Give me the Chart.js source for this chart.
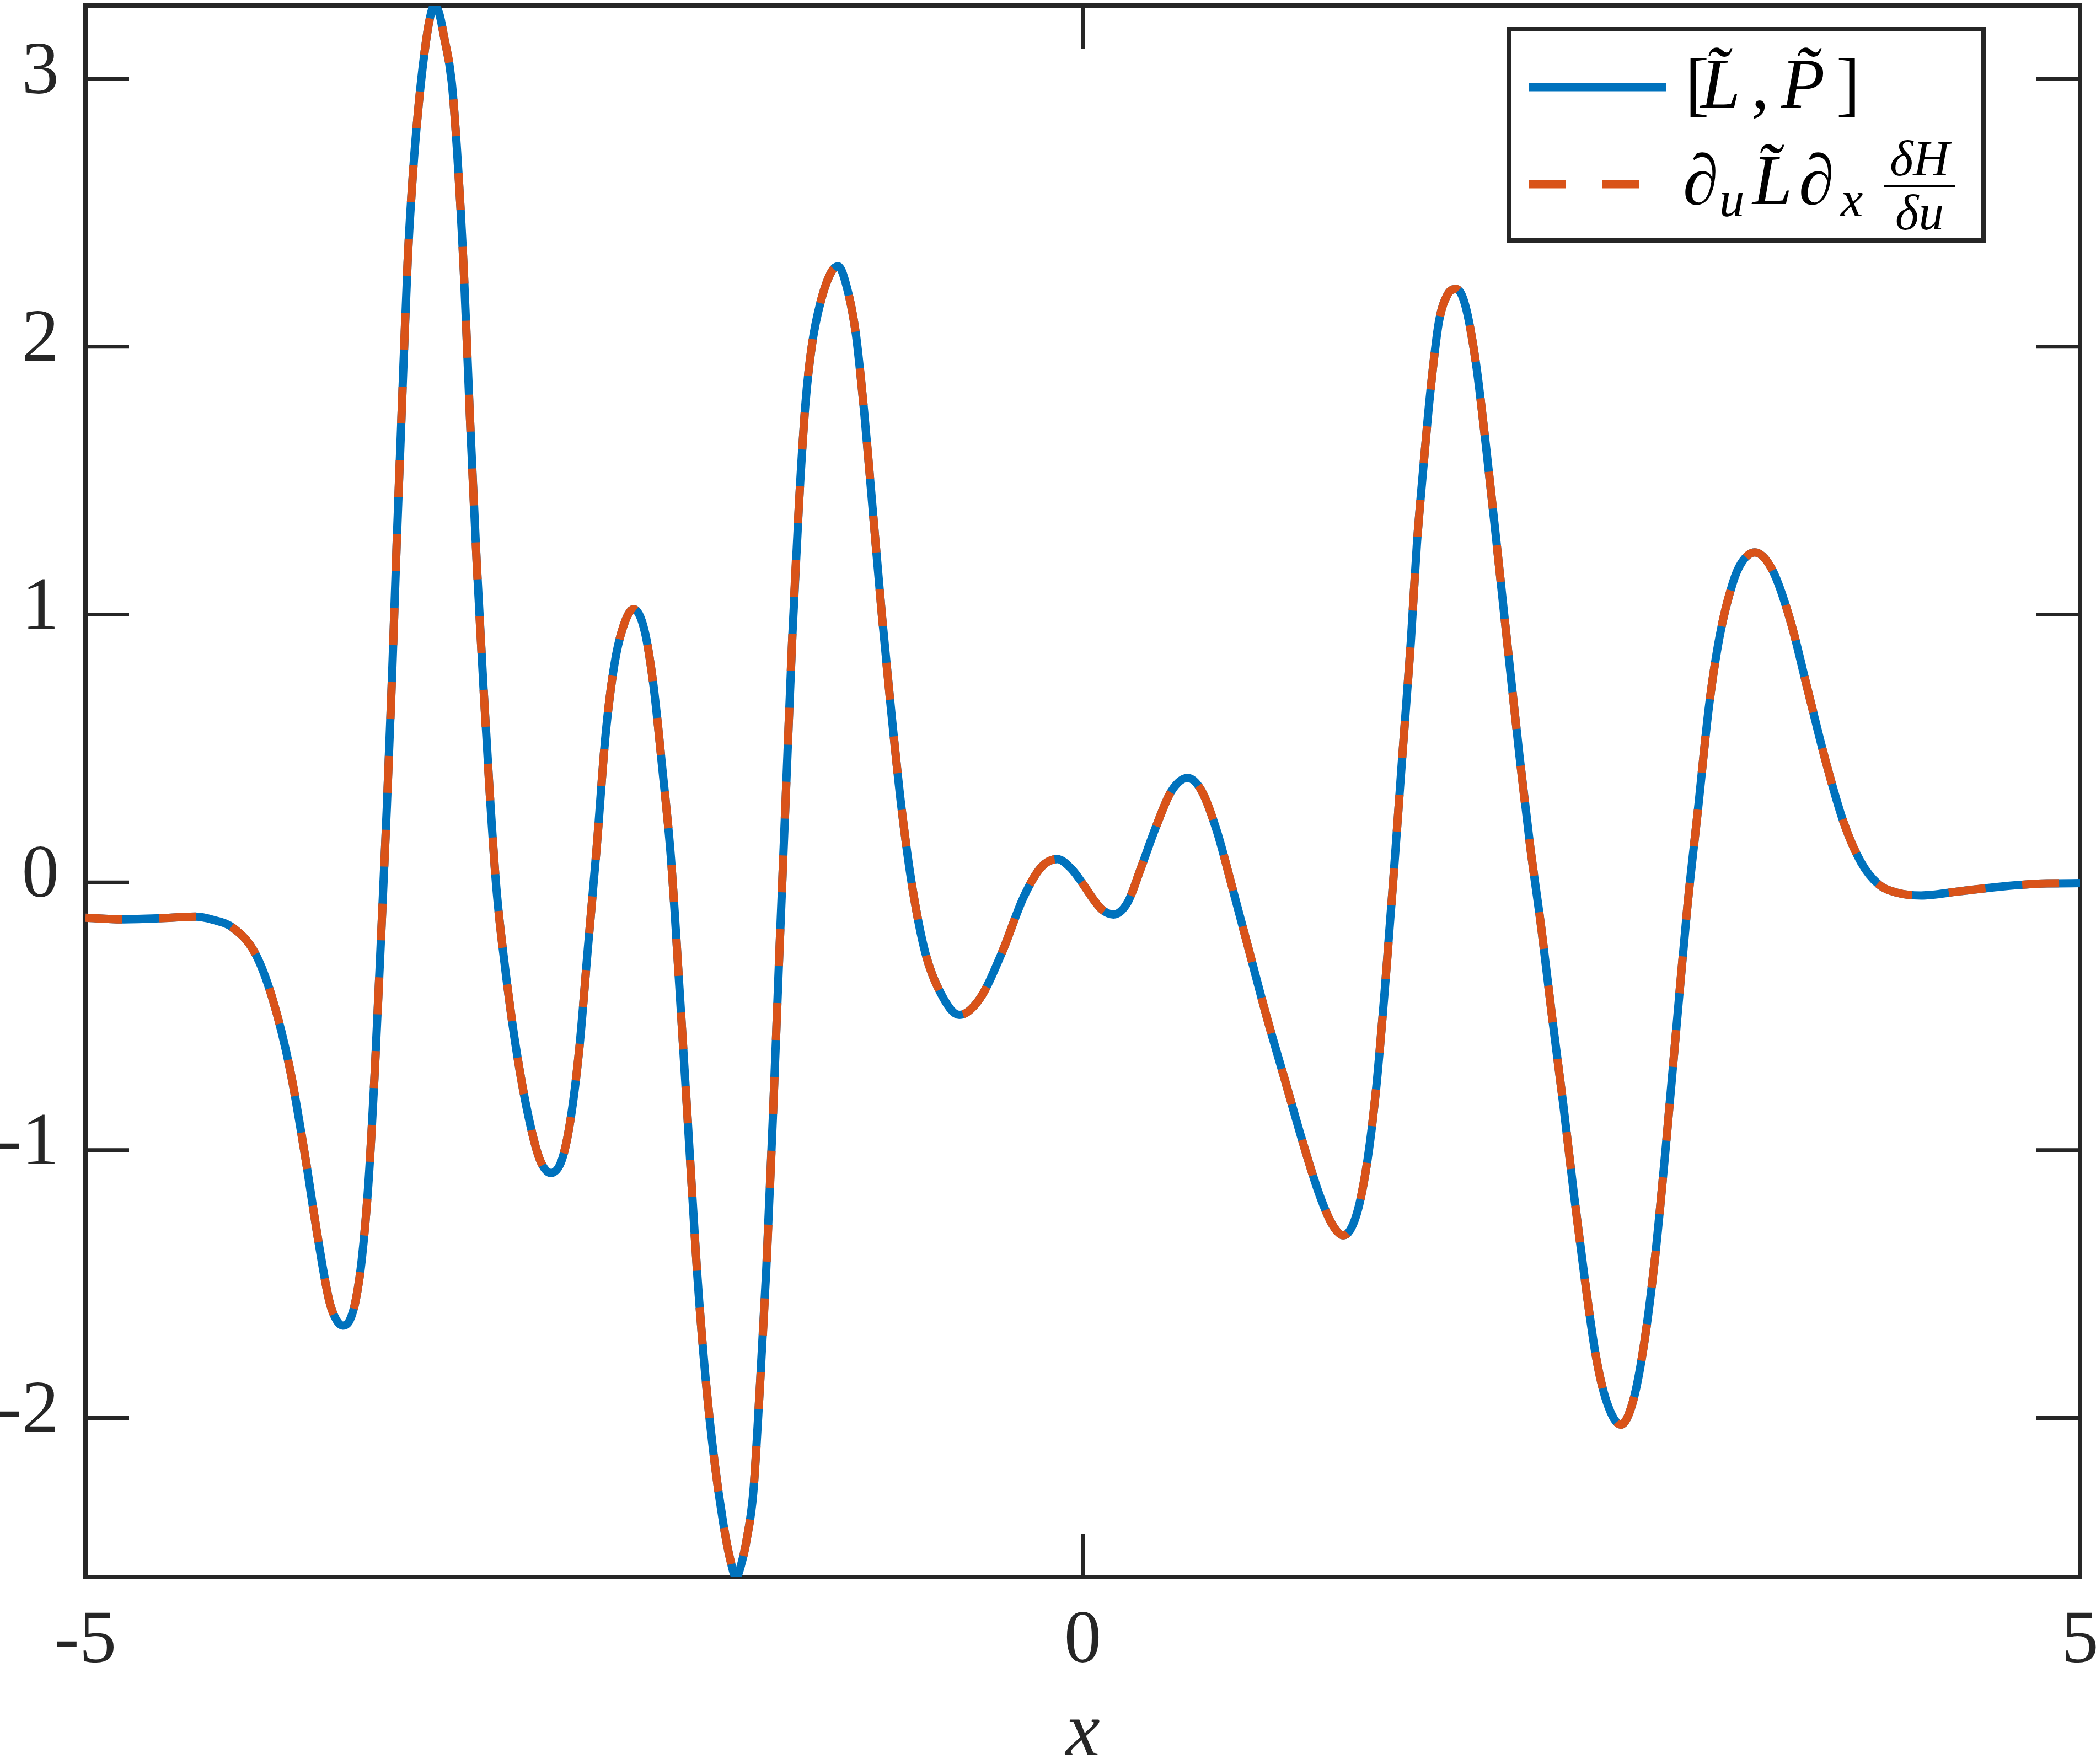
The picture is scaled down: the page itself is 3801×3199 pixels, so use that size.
<!DOCTYPE html>
<html><head><meta charset="utf-8">
<script src="https://cdn.jsdelivr.net/npm/chart.js@4"></script>
<style>html,body{margin:0;padding:0;background:#fff;overflow:hidden}canvas{display:block}</style>
</head><body>
<canvas id="c" width="3801" height="3199"></canvas>
<script>
// x positions of the readings
const xValues = [
 -5.00, -4.82, -4.63, -4.45, -4.36, -4.26, -4.15, -4.063, -3.975, -3.90,
 -3.833, -3.778, -3.745, -3.71, -3.675, -3.645, -3.615, -3.582, -3.549, -3.516,
 -3.489, -3.461, -3.44, -3.413, -3.385, -3.358, -3.33, -3.30, -3.275, -3.251,
 -3.225, -3.203, -3.164, -3.137, -3.103, -3.071, -3.038, -3.005, -2.972, -2.94,
 -2.896, -2.841, -2.776, -2.722, -2.667, -2.611, -2.568, -2.524, -2.481, -2.437,
 -2.393, -2.349, -2.306, -2.252, -2.197, -2.152, -2.109, -2.065, -2.022, -1.978,
 -1.934, -1.89, -1.846, -1.803, -1.77, -1.738, -1.71, -1.684, -1.652, -1.62,
 -1.587, -1.554, -1.522, -1.489, -1.456, -1.423, -1.39, -1.357, -1.315, -1.26,
 -1.226, -1.182, -1.138, -1.095, -1.051, -1.007, -0.963, -0.909, -0.854, -0.789,
 -0.712, -0.619, -0.515, -0.406, -0.297, -0.209, -0.127, -0.056, 0.0, 0.05,
 0.094, 0.154, 0.225, 0.29, 0.367, 0.444, 0.526, 0.597, 0.673, 0.75,
 0.837, 0.925, 1.012, 1.099, 1.187, 1.253, 1.307, 1.373, 1.428, 1.471,
 1.515, 1.558, 1.602, 1.645, 1.675, 1.709, 1.742, 1.785, 1.829, 1.873,
 1.917, 1.971, 2.026, 2.081, 2.135, 2.19, 2.244, 2.299, 2.354, 2.409,
 2.463, 2.518, 2.573, 2.627, 2.698, 2.758, 2.813, 2.868, 2.922, 2.976,
 3.031, 3.086, 3.14, 3.194, 3.26, 3.30, 3.369, 3.457, 3.547, 3.636,
 3.725, 3.814, 3.902, 3.991, 4.08, 4.203, 4.39, 4.613, 4.835, 5.0
];
// [L~, P~] (solid blue)
const commutatorValues = [
 -0.132, -0.138, -0.134, -0.128, -0.140, -0.170, -0.264, -0.433, -0.697, -1.017,
 -1.337, -1.562, -1.630, -1.655, -1.635, -1.560, -1.410, -1.130, -0.697, -0.170,
 0.282, 0.810, 1.260, 1.790, 2.315, 2.650, 2.900, 3.100, 3.220, 3.274,
 3.240, 3.160, 2.990, 2.730, 2.280, 1.710, 1.186, 0.734, 0.320, -0.020,
 -0.320, -0.620, -0.885, -1.035, -1.085, -1.035, -0.885, -0.620, -0.245, 0.130,
 0.546, 0.810, 0.950, 1.020, 0.940, 0.734, 0.433, 0.094, -0.395, -0.920,
 -1.450, -1.860, -2.165, -2.390, -2.520, -2.594, -2.540, -2.450, -2.280, -1.900,
 -1.450, -0.885, -0.280, 0.320, 0.920, 1.410, 1.790, 2.010, 2.165, 2.280,
 2.300, 2.220, 2.050, 1.750, 1.374, 0.998, 0.659, 0.280, -0.020, -0.264,
 -0.414, -0.495, -0.433, -0.264, -0.056, 0.056, 0.087, 0.050, -0.005, -0.060,
 -0.100, -0.120, -0.075, 0.050, 0.207, 0.340, 0.390, 0.340, 0.190, -0.020,
 -0.264, -0.510, -0.734, -0.960, -1.167, -1.280, -1.318, -1.240, -1.035, -0.770,
 -0.395, 0.020, 0.470, 0.900, 1.260, 1.560, 1.826, 2.090, 2.195, 2.215,
 2.157, 1.940, 1.600, 1.224, 0.847, 0.470, 0.130, -0.170, -0.508, -0.828,
 -1.167, -1.487, -1.770, -1.940, -2.025, -1.940, -1.730, -1.410, -0.998, -0.546,
 -0.094, 0.282, 0.659, 0.922, 1.120, 1.190, 1.232, 1.167, 0.979, 0.715,
 0.452, 0.226, 0.075, -0.008, -0.038, -0.049, -0.034, -0.015, -0.004, -0.003
];
// d_u L~ d_x dH/du (dashed orange) - lies exactly on top of the solid curve in the picture
const rhsValues = commutatorValues.slice();

const xTickValues = [-5, 0, 5];
const yTickValues = [-2, -1, 0, 1, 2, 3];
const seriesLabels = ['[L\u0303, P\u0303]', '\u2202uL\u0303\u2202x \u03B4H/\u03B4u'];
const axisTitleX = 'x';

const BLUE = '#0072BD', ORANGE = '#D95319', AX = '#262626';
const FONT = '"Liberation Serif", "DejaVu Serif", serif';

const toPts = (xs, ys) => xs.map((x, i) => ({x: x, y: ys[i]}));
const allY = commutatorValues.concat(rhsValues);

const framePlugin = {
  id: 'frame',
  beforeDatasetsDraw(chart) {
    const ctx = chart.ctx, xs = chart.scales.x, ys = chart.scales.y;
    const L = xs.getPixelForValue(xs.min), R = xs.getPixelForValue(xs.max);
    const T = ys.getPixelForValue(ys.max), B = ys.getPixelForValue(ys.min);
    ctx.save();
    ctx.strokeStyle = AX; ctx.lineCap = 'butt';
    ctx.lineWidth = 7;
    const tl = 79;
    yTickValues.forEach(v => {
      const p = ys.getPixelForValue(v);
      ctx.beginPath(); ctx.moveTo(L, p); ctx.lineTo(L + tl, p);
      ctx.moveTo(R, p); ctx.lineTo(R - tl, p); ctx.stroke();
    });
    xTickValues.forEach(v => {
      const p = xs.getPixelForValue(v);
      ctx.beginPath(); ctx.moveTo(p, B); ctx.lineTo(p, B - tl);
      ctx.moveTo(p, T); ctx.lineTo(p, T + tl); ctx.stroke();
    });
    ctx.lineWidth = 8; ctx.lineJoin = 'miter';
    ctx.strokeRect(L, T, R - L, B - T);
    ctx.restore();
  }
};

function txt(ctx, s, x, y, size, italic, align) {
  ctx.font = (italic ? 'italic ' : '') + size + 'px ' + FONT;
  ctx.textAlign = align || 'left';
  ctx.textBaseline = 'alphabetic';
  ctx.fillText(s, x, y);
}

const legendPlugin = {
  id: 'mlegend',
  afterDraw(chart) {
    const ctx = chart.ctx;
    const ds = chart.data.datasets;
    const bx = 2737, by = 53, bw = 860, bh = 383;
    ctx.save();
    ctx.fillStyle = '#fff';
    ctx.fillRect(bx, by, bw, bh);
    ctx.strokeStyle = AX; ctx.lineWidth = 8;
    ctx.strokeRect(bx, by, bw, bh);
    const rows = [158, 334];
    // sample lines: row 1 = first dataset (solid blue), row 2 = second (dashed orange)
    [ds[0], ds[1]].forEach((d, i) => {
      ctx.beginPath();
      ctx.strokeStyle = d.borderColor; ctx.lineWidth = d.borderWidth;
      ctx.lineCap = 'butt';
      ctx.setLineDash(d.borderDash || []);
      ctx.moveTo(2772, rows[i]); ctx.lineTo(3022, rows[i]); ctx.stroke();
    });
    ctx.setLineDash([]);
    ctx.fillStyle = '#000';
    // row 1: [L~, P~]
    txt(ctx, '[', 3056, 195, 130, false);
    txt(ctx, 'L\u0303', 3084, 195, 130, true);
    txt(ctx, ',', 3176, 195, 130, false);
    txt(ctx, 'P\u0303', 3230, 195, 130, true);
    txt(ctx, ']', 3330, 195, 130, false);
    // row 2: d_u L~ d_x (dH / du)
    txt(ctx, '\u2202', 3052, 370, 130, true);
    txt(ctx, 'u', 3118, 392, 91, true);
    txt(ctx, 'L\u0303', 3178, 370, 130, true);
    txt(ctx, '\u2202', 3262, 370, 130, true);
    txt(ctx, 'x', 3338, 392, 91, true);
    ctx.fillRect(3416, 335, 130, 5);
    txt(ctx, '\u03B4H', 3481, 318, 91, true, 'center');
    txt(ctx, '\u03B4u', 3481, 416, 91, true, 'center');
    ctx.restore();
  }
};

new Chart(document.getElementById('c'), {
  type: 'line',
  data: {
    datasets: [
      { label: seriesLabels[0], data: toPts(xValues, commutatorValues), borderColor: BLUE,
        borderWidth: 15, order: 1, cubicInterpolationMode: 'monotone', borderJoinStyle: 'round' },
      { label: seriesLabels[1], data: toPts(xValues, rhsValues), borderColor: ORANGE,
        borderWidth: 15, borderDash: [67, 67], order: 0, cubicInterpolationMode: 'monotone',
        borderJoinStyle: 'round' }
    ]
  },
  options: {
    responsive: false, animation: false, devicePixelRatio: 1,
    layout: { padding: { top: 10, right: 29, left: 0, bottom: 0 } },
    plugins: { legend: { display: false }, tooltip: { enabled: false }, title: { display: false } },
    elements: { point: { radius: 0 } },
    scales: {
      x: {
        type: 'linear', min: -5, max: 5,
        grid: { display: false }, border: { display: false },
        afterBuildTicks: s => { s.ticks = xTickValues.map(v => ({ value: v })); },
        afterFit: s => { s.height = 339; s.paddingLeft = 0; s.paddingRight = 0; },
        ticks: { font: { family: FONT, size: 135 }, color: AX, padding: 30,
                 maxRotation: 0, autoSkip: false, callback: v => String(v) },
        title: { display: true, text: axisTitleX, color: AX, padding: 0,
                 font: { family: FONT, style: 'italic', size: 140, lineHeight: 0.75 } }
      },
      y: {
        type: 'linear', min: Math.min(...allY), max: Math.max(...allY),
        grid: { display: false }, border: { display: false },
        afterBuildTicks: s => { s.ticks = yTickValues.map(v => ({ value: v })); },
        afterFit: s => { s.width = 155; s.paddingTop = 0; s.paddingBottom = 0; },
        ticks: { font: { family: FONT, size: 135 }, color: AX, padding: 40, labelOffset: -10,
                 autoSkip: false, callback: v => String(v) }
      }
    }
  },
  plugins: [framePlugin, legendPlugin]
});
</script>
</body></html>
